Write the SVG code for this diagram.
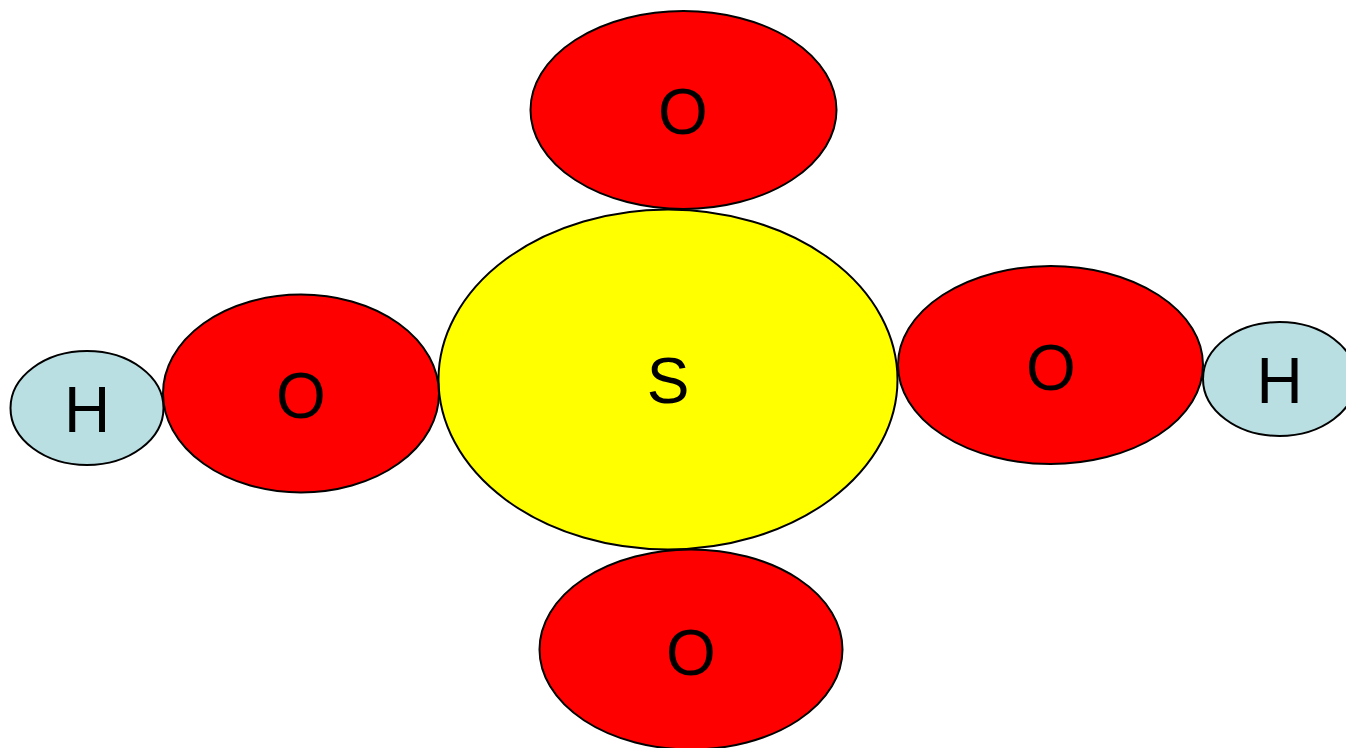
<svg xmlns="http://www.w3.org/2000/svg" width="1346" height="748" viewBox="0 0 1346 748">
<style>
.n{stroke:#000;stroke-width:2}
.o{fill:#ff0000}
.h{fill:#b9dfe3}
.s{fill:#ffff00}
text{font-family:"Liberation Sans",Arial,sans-serif;text-anchor:middle;fill:#000;font-size:64px}
</style>
<rect width="1346" height="748" fill="#fff"/>
<g id="connectors"></g>
<g id="o-top"><ellipse class="n o" cx="683.500" cy="110" rx="153" ry="99"/><text x="683" y="133.500">O</text></g>
<g id="sulfur"><ellipse class="n s" cx="668" cy="379.500" rx="229.500" ry="170"/><text x="668" y="402.500">S</text></g>
<g id="o-left"><ellipse class="n o" cx="301" cy="393.500" rx="138" ry="99"/><text x="301" y="417.500">O</text></g>
<g id="o-right"><ellipse class="n o" cx="1050.500" cy="365" rx="152.500" ry="99"/><text x="1051" y="389.500">O</text></g>
<g id="o-bottom"><ellipse class="n o" cx="691" cy="649.500" rx="151.500" ry="100"/><text x="691" y="674.500">O</text></g>
<g id="h-left"><ellipse class="n h" cx="87" cy="408" rx="76.500" ry="57"/><text x="87" y="432">H</text></g>
<g id="h-right"><ellipse class="n h" cx="1279.500" cy="379" rx="76.500" ry="57"/><text x="1279.500" y="403">H</text></g>
</svg>
